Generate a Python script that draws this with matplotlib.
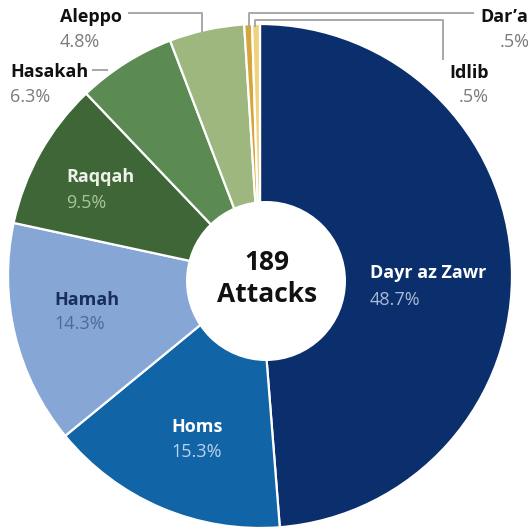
import matplotlib.pyplot as plt
from matplotlib.patches import Circle

# attack share by governorate, clockwise from 12 o'clock
regions = ["Dayr az Zawr", "Homs", "Hamah", "Raqqah", "Hasakah", "Aleppo", "Dar\u2019a", "Idlib"]
shares = [48.7, 15.3, 14.3, 9.5, 6.3, 4.8, 0.5, 0.5]
pct_labels = ["48.7%", "15.3%", "14.3%", "9.5%", "6.3%", "4.8%", ".5%", ".5%"]
colors = ["#0b2f6c", "#1164a6", "#86a6d5", "#3e6637", "#5b8b52", "#9db77f", "#d6a53c", "#f1d27c"]
total_attacks = 189

W, H = 530, 531
plt.rcParams['font.family'] = ['Open Sans', 'DejaVu Sans']

fig = plt.figure(figsize=(W / 100, H / 100), dpi=100)
ax = fig.add_axes([0, 0, 1, 1])


def py(y):
    # pixel row (from top) -> data y
    return H - y


ax.pie(shares, colors=colors, startangle=90, counterclock=False,
       center=(260, py(276)), radius=252, frame=True,
       wedgeprops=dict(edgecolor='white', linewidth=1.6))
ax.set_xlim(0, W)
ax.set_ylim(0, H)
ax.set_aspect('equal')
ax.axis('off')

ax.add_patch(Circle((266, py(281)), 80, facecolor='white', edgecolor='none', zorder=5))
ax.text(267, py(262), str(total_attacks), ha='center', va='center',
        fontsize=19, fontweight='bold', color='#111111', zorder=6)
ax.text(267, py(295), "Attacks", ha='center', va='center',
        fontsize=19, fontweight='bold', color='#111111', zorder=6)

fs = 13

# labels inside the slices: (name colour, pct colour, x, y name, y pct, ha)
inside = {
    "Dayr az Zawr": ("white", "#a9b9d8", 370, 273, 300, 'left'),
    "Homs": ("white", "#b9d3ee", 197, 427, 452, 'center'),
    "Hamah": ("#1b2d5c", "#4e6a99", 54, 300, 324, 'left'),
    "Raqqah": ("#eef3ea", "#a9c59b", 66, 177, 203, 'left'),
}
for name, pct in zip(regions, pct_labels):
    if name in inside:
        c1, c2, x, y1, y2, ha = inside[name]
        ax.text(x, py(y1), name, ha=ha, va='center', fontsize=fs,
                fontweight='bold', color=c1, zorder=6)
        ax.text(x, py(y2), pct, ha=ha, va='center', fontsize=fs,
                color=c2, zorder=6)

# labels outside with leader lines
outside = {
    "Aleppo": (60, 17, 42, 'left'),
    "Hasakah": (10, 72, 97, 'left'),
    "Dar\u2019a": (480, 17, 42, 'left'),
    "Idlib": (489, 73, 97, 'right'),
}
for name, pct in zip(regions, pct_labels):
    if name in outside:
        x, y1, y2, ha = outside[name]
        x2 = x + 20 if name == "Dar\u2019a" else x
        ax.text(x, py(y1), name, ha=ha, va='center', fontsize=fs,
                fontweight='bold', color='#111111')
        ax.text(x2, py(y2), pct, ha=ha, va='center', fontsize=fs,
                color='#7a7a7a')

line_kw = dict(color='#a8a8a8', lw=1.4, solid_capstyle='butt')
ax.plot([128, 202, 202], [py(13), py(13), py(32)], **line_kw)
ax.plot([92, 108], [py(70), py(70)], **line_kw)
ax.plot([249, 249, 474], [py(28), py(13), py(13)], **line_kw)
ax.plot([255, 255, 443, 443], [py(27), py(20), py(20), py(60)], **line_kw)

plt.savefig('out.png', dpi=100)
